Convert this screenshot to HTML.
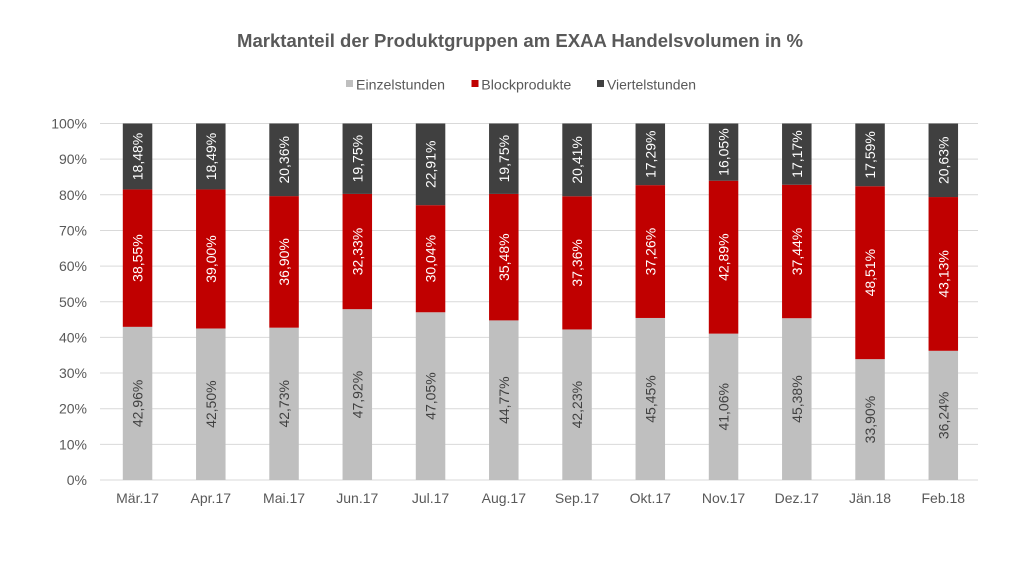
<!DOCTYPE html>
<html>
<head>
<meta charset="utf-8">
<style>
html,body{margin:0;padding:0;background:#fff;}
svg{display:block;}
text{font-family:"Liberation Sans",Arial,sans-serif;}
</style>
</head>
<body>
<svg width="1024" height="567" viewBox="0 0 1024 567" xmlns="http://www.w3.org/2000/svg">
<rect width="1024" height="567" fill="#fff"/>
<!-- Title -->
<text x="520" y="47" font-size="18" font-weight="bold" fill="#595959" text-anchor="middle" textLength="566" lengthAdjust="spacingAndGlyphs">Marktanteil der Produktgruppen am EXAA Handelsvolumen in %</text>
<!-- Legend -->
<rect x="346" y="80" width="7" height="7" fill="#bfbfbf"/>
<text x="356" y="89.5" font-size="14" fill="#595959" textLength="89" lengthAdjust="spacingAndGlyphs">Einzelstunden</text>
<rect x="471.5" y="80" width="7" height="7" fill="#c00000"/>
<text x="481.3" y="89.5" font-size="14" fill="#595959" textLength="90" lengthAdjust="spacingAndGlyphs">Blockprodukte</text>
<rect x="597" y="80" width="7" height="7" fill="#404040"/>
<text x="607" y="89.5" font-size="14" fill="#595959" textLength="89" lengthAdjust="spacingAndGlyphs">Viertelstunden</text>
<!-- Gridlines -->
<g stroke="#d9d9d9" stroke-width="1">
<line x1="100" x2="978" y1="123.5" y2="123.5"/>
<line x1="100" x2="978" y1="159.15" y2="159.15"/>
<line x1="100" x2="978" y1="194.8" y2="194.8"/>
<line x1="100" x2="978" y1="230.45" y2="230.45"/>
<line x1="100" x2="978" y1="266.1" y2="266.1"/>
<line x1="100" x2="978" y1="301.75" y2="301.75"/>
<line x1="100" x2="978" y1="337.4" y2="337.4"/>
<line x1="100" x2="978" y1="373.05" y2="373.05"/>
<line x1="100" x2="978" y1="408.7" y2="408.7"/>
<line x1="100" x2="978" y1="444.35" y2="444.35"/>
<line x1="100" x2="978" y1="480" y2="480"/>
</g>
<!-- Y axis labels -->
<g font-size="14" fill="#595959" text-anchor="end">
<text x="87" y="128.5">100%</text>
<text x="87" y="164.2">90%</text>
<text x="87" y="199.8">80%</text>
<text x="87" y="235.5">70%</text>
<text x="87" y="271.1">60%</text>
<text x="87" y="306.8">50%</text>
<text x="87" y="342.4">40%</text>
<text x="87" y="378.1">30%</text>
<text x="87" y="413.7">20%</text>
<text x="87" y="449.4">10%</text>
<text x="87" y="485">0%</text>
</g>
<!-- Bars -->
<g>
<!-- Mär -->
<rect x="122.8" y="326.85" width="29.5" height="153.15" fill="#bfbfbf"/>
<rect x="122.8" y="189.42" width="29.5" height="137.43" fill="#c00000"/>
<rect x="122.8" y="123.5" width="29.5" height="65.92" fill="#404040"/>
<!-- Apr -->
<rect x="196.05" y="328.49" width="29.5" height="151.51" fill="#bfbfbf"/>
<rect x="196.05" y="189.45" width="29.5" height="139.04" fill="#c00000"/>
<rect x="196.05" y="123.5" width="29.5" height="65.95" fill="#404040"/>
<!-- Mai -->
<rect x="269.3" y="327.67" width="29.5" height="152.33" fill="#bfbfbf"/>
<rect x="269.3" y="196.12" width="29.5" height="131.55" fill="#c00000"/>
<rect x="269.3" y="123.5" width="29.5" height="72.62" fill="#404040"/>
<!-- Jun -->
<rect x="342.55" y="309.17" width="29.5" height="170.83" fill="#bfbfbf"/>
<rect x="342.55" y="193.91" width="29.5" height="115.26" fill="#c00000"/>
<rect x="342.55" y="123.5" width="29.5" height="70.41" fill="#404040"/>
<!-- Jul -->
<rect x="415.8" y="312.27" width="29.5" height="167.73" fill="#bfbfbf"/>
<rect x="415.8" y="205.17" width="29.5" height="107.1" fill="#c00000"/>
<rect x="415.8" y="123.5" width="29.5" height="81.67" fill="#404040"/>
<!-- Aug -->
<rect x="489.05" y="320.39" width="29.5" height="159.61" fill="#bfbfbf"/>
<rect x="489.05" y="193.91" width="29.5" height="126.48" fill="#c00000"/>
<rect x="489.05" y="123.5" width="29.5" height="70.41" fill="#404040"/>
<!-- Sep -->
<rect x="562.3" y="329.45" width="29.5" height="150.55" fill="#bfbfbf"/>
<rect x="562.3" y="196.26" width="29.5" height="133.19" fill="#c00000"/>
<rect x="562.3" y="123.5" width="29.5" height="72.76" fill="#404040"/>
<!-- Okt -->
<rect x="635.55" y="317.97" width="29.5" height="162.03" fill="#bfbfbf"/>
<rect x="635.55" y="185.14" width="29.5" height="132.83" fill="#c00000"/>
<rect x="635.55" y="123.5" width="29.5" height="61.64" fill="#404040"/>
<!-- Nov -->
<rect x="708.8" y="333.62" width="29.5" height="146.38" fill="#bfbfbf"/>
<rect x="708.8" y="180.72" width="29.5" height="152.9" fill="#c00000"/>
<rect x="708.8" y="123.5" width="29.5" height="57.22" fill="#404040"/>
<!-- Dez -->
<rect x="782.05" y="318.22" width="29.5" height="161.78" fill="#bfbfbf"/>
<rect x="782.05" y="184.75" width="29.5" height="133.47" fill="#c00000"/>
<rect x="782.05" y="123.5" width="29.5" height="61.25" fill="#404040"/>
<!-- Jän -->
<rect x="855.3" y="359.15" width="29.5" height="120.85" fill="#bfbfbf"/>
<rect x="855.3" y="186.21" width="29.5" height="172.94" fill="#c00000"/>
<rect x="855.3" y="123.5" width="29.5" height="62.71" fill="#404040"/>
<!-- Feb -->
<rect x="928.55" y="350.8" width="29.5" height="129.2" fill="#bfbfbf"/>
<rect x="928.55" y="197.05" width="29.5" height="153.75" fill="#c00000"/>
<rect x="928.55" y="123.5" width="29.5" height="73.55" fill="#404040"/>
</g>
<!-- Data labels -->
<g font-size="14" text-anchor="middle">
<!-- Mär c=137.55 -->
<text transform="translate(142.55,403.4) rotate(-90)" fill="#404040">42,96%</text>
<text transform="translate(142.55,258.1) rotate(-90)" fill="#fff">38,55%</text>
<text transform="translate(142.55,156.5) rotate(-90)" fill="#fff">18,48%</text>
<!-- Apr c=210.8 -->
<text transform="translate(215.8,404.2) rotate(-90)" fill="#404040">42,50%</text>
<text transform="translate(215.8,259.0) rotate(-90)" fill="#fff">39,00%</text>
<text transform="translate(215.8,156.5) rotate(-90)" fill="#fff">18,49%</text>
<!-- Mai c=284.05 -->
<text transform="translate(289.05,403.8) rotate(-90)" fill="#404040">42,73%</text>
<text transform="translate(289.05,261.9) rotate(-90)" fill="#fff">36,90%</text>
<text transform="translate(289.05,159.8) rotate(-90)" fill="#fff">20,36%</text>
<!-- Jun c=357.3 -->
<text transform="translate(362.3,394.6) rotate(-90)" fill="#404040">47,92%</text>
<text transform="translate(362.3,251.5) rotate(-90)" fill="#fff">32,33%</text>
<text transform="translate(362.3,158.7) rotate(-90)" fill="#fff">19,75%</text>
<!-- Jul c=430.55 -->
<text transform="translate(435.55,396.1) rotate(-90)" fill="#404040">47,05%</text>
<text transform="translate(435.55,258.7) rotate(-90)" fill="#fff">30,04%</text>
<text transform="translate(435.55,164.3) rotate(-90)" fill="#fff">22,91%</text>
<!-- Aug c=503.8 -->
<text transform="translate(508.8,400.2) rotate(-90)" fill="#404040">44,77%</text>
<text transform="translate(508.8,257.2) rotate(-90)" fill="#fff">35,48%</text>
<text transform="translate(508.8,158.7) rotate(-90)" fill="#fff">19,75%</text>
<!-- Sep c=577.05 -->
<text transform="translate(582.05,404.7) rotate(-90)" fill="#404040">42,23%</text>
<text transform="translate(582.05,262.9) rotate(-90)" fill="#fff">37,36%</text>
<text transform="translate(582.05,159.9) rotate(-90)" fill="#fff">20,41%</text>
<!-- Okt c=650.3 -->
<text transform="translate(655.3,399.0) rotate(-90)" fill="#404040">45,45%</text>
<text transform="translate(655.3,251.6) rotate(-90)" fill="#fff">37,26%</text>
<text transform="translate(655.3,154.3) rotate(-90)" fill="#fff">17,29%</text>
<!-- Nov c=723.55 -->
<text transform="translate(728.55,406.8) rotate(-90)" fill="#404040">41,06%</text>
<text transform="translate(728.55,257.2) rotate(-90)" fill="#fff">42,89%</text>
<text transform="translate(728.55,152.1) rotate(-90)" fill="#fff">16,05%</text>
<!-- Dez c=796.8 -->
<text transform="translate(801.8,399.1) rotate(-90)" fill="#404040">45,38%</text>
<text transform="translate(801.8,251.5) rotate(-90)" fill="#fff">37,44%</text>
<text transform="translate(801.8,154.1) rotate(-90)" fill="#fff">17,17%</text>
<!-- Jän c=870.05 -->
<text transform="translate(875.05,419.6) rotate(-90)" fill="#404040">33,90%</text>
<text transform="translate(875.05,272.7) rotate(-90)" fill="#fff">48,51%</text>
<text transform="translate(875.05,154.9) rotate(-90)" fill="#fff">17,59%</text>
<!-- Feb c=943.3 -->
<text transform="translate(948.3,415.4) rotate(-90)" fill="#404040">36,24%</text>
<text transform="translate(948.3,273.9) rotate(-90)" fill="#fff">43,13%</text>
<text transform="translate(948.3,160.3) rotate(-90)" fill="#fff">20,63%</text>
</g>
<!-- X axis labels -->
<g font-size="14" fill="#595959" text-anchor="middle">
<text x="137.55" y="503">Mär.17</text>
<text x="210.8" y="503">Apr.17</text>
<text x="284.05" y="503">Mai.17</text>
<text x="357.3" y="503">Jun.17</text>
<text x="430.55" y="503">Jul.17</text>
<text x="503.8" y="503">Aug.17</text>
<text x="577.05" y="503">Sep.17</text>
<text x="650.3" y="503">Okt.17</text>
<text x="723.55" y="503">Nov.17</text>
<text x="796.8" y="503">Dez.17</text>
<text x="870.05" y="503">Jän.18</text>
<text x="943.3" y="503">Feb.18</text>
</g>
</svg>
</body>
</html>
